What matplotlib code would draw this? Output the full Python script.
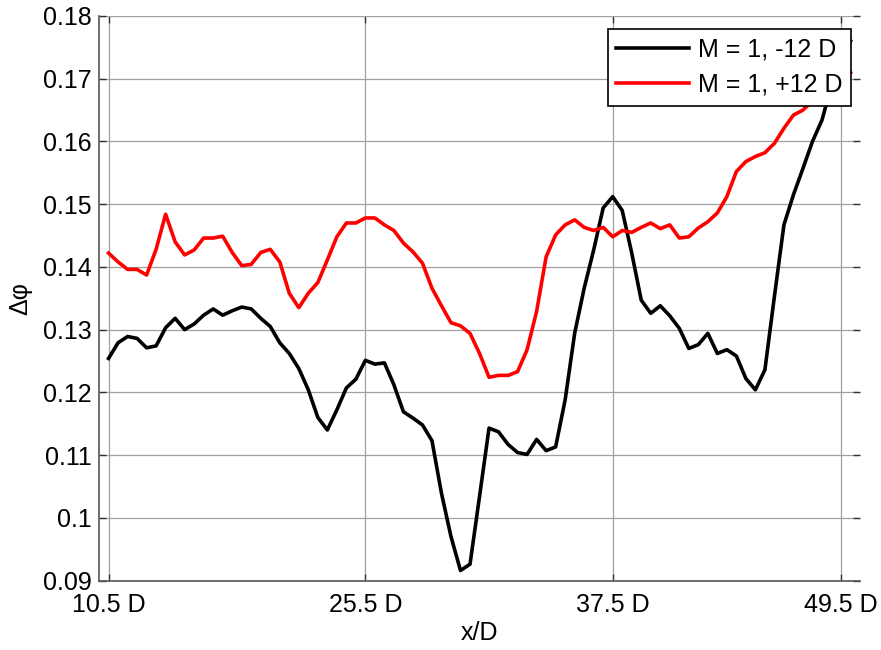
import numpy as np
import matplotlib
matplotlib.use("Agg")
import matplotlib.pyplot as plt

plt.rcParams['font.family'] = ['Liberation Sans', 'DejaVu Sans']

# Werte (Stichprobenindex 1..79)
dphi_minus12 = [
    0.1254, 0.1279, 0.1289, 0.1286, 0.1271, 0.1274, 0.1303, 0.1318, 0.1300, 0.1309,
    0.1323, 0.1333, 0.1323, 0.1330, 0.1336, 0.1333, 0.1318, 0.1305, 0.1279, 0.1262,
    0.1238, 0.1204, 0.1160, 0.1140, 0.1172, 0.1207, 0.1221, 0.1251, 0.1245, 0.1247,
    0.1212, 0.1169, 0.1159, 0.1148, 0.1123, 0.1039, 0.0970, 0.0916, 0.0926, 0.1034,
    0.1143, 0.1137, 0.1117, 0.1104, 0.1101, 0.1125, 0.1107, 0.1113, 0.1188, 0.1294,
    0.1366, 0.1427, 0.1494, 0.1512, 0.1490, 0.1422, 0.1347, 0.1326, 0.1338, 0.1322,
    0.1302, 0.1270, 0.1276, 0.1294, 0.1262, 0.1268, 0.1258, 0.1222, 0.1204, 0.1236,
    0.1353, 0.1467, 0.1515, 0.1557, 0.1600, 0.1634, 0.1690, 0.1725, 0.1760,
]
dphi_plus12 = [
    0.1422, 0.1408, 0.1396, 0.1396, 0.1387, 0.1428, 0.1484, 0.1440, 0.1419, 0.1427,
    0.1446, 0.1446, 0.1449, 0.1423, 0.1402, 0.1404, 0.1423, 0.1428, 0.1408, 0.1358,
    0.1335, 0.1358, 0.1375, 0.1411, 0.1448, 0.1470, 0.1470, 0.1478, 0.1478, 0.1467,
    0.1458, 0.1438, 0.1424, 0.1406, 0.1366, 0.1338, 0.1311, 0.1306, 0.1294, 0.1262,
    0.1224, 0.1227, 0.1227, 0.1233, 0.1268, 0.1329, 0.1416, 0.1451, 0.1467, 0.1475,
    0.1463, 0.1458, 0.1463, 0.1448, 0.1458, 0.1455, 0.1463, 0.1470, 0.1461, 0.1467,
    0.1446, 0.1448, 0.1462, 0.1472, 0.1486, 0.1512, 0.1552, 0.1568, 0.1576, 0.1582,
    0.1597, 0.1621, 0.1642, 0.1650, 0.1665, 0.1680, 0.1690, 0.1700, 0.1710,
]
x = np.arange(1, len(dphi_minus12) + 1)

xtick_pos = [1, 28, 54, 78]
xtick_labels = ['10.5 D', '25.5 D', '37.5 D', '49.5 D']
ytick_vals = [0.09, 0.10, 0.11, 0.12, 0.13, 0.14, 0.15, 0.16, 0.17, 0.18]

fig = plt.figure(figsize=(8.81, 6.5), dpi=100)
ax = fig.add_axes([0.1124, 0.1069, 0.8638, 0.8685])

ax.plot(x, dphi_minus12, color='black', lw=2.6, label='M = 1, -12 D')
ax.plot(x, dphi_plus12, color='red', lw=2.6, label='M = 1, +12 D')

ax.set_xlim(0, 80)
ax.set_ylim(0.09, 0.18)
ax.set_xticks(xtick_pos)
ax.set_xticklabels(xtick_labels)
ax.set_yticks(ytick_vals)
ax.set_yticklabels(['%g' % v for v in ytick_vals])

ax.grid(True, color='#a0a0a0', lw=0.9)
ax.set_axisbelow(True)

for s in ['top', 'right']:
    ax.spines[s].set_visible(False)
for s in ['left', 'bottom']:
    ax.spines[s].set_color('#555555')
    ax.spines[s].set_linewidth(1.2)

ax.tick_params(direction='in', length=5, width=1, colors='#333333',
               top=True, right=True, labelsize=18, labelcolor='black')
ax.tick_params(axis='x', pad=9)
ax.tick_params(axis='y', pad=5)

ax.set_xlabel('x/D', fontsize=18, labelpad=3)
ax.set_ylabel('Δφ', fontsize=18, labelpad=8)

leg = ax.legend(loc='upper right', bbox_to_anchor=(0.988, 0.977), borderaxespad=0,
                fontsize=18, handlelength=2.9, handletextpad=0.35, fancybox=False,
                framealpha=1, edgecolor='black', borderpad=0.35, labelspacing=0.45)
leg.get_frame().set_linewidth(1.2)

fig.savefig('out.png', dpi=100)
